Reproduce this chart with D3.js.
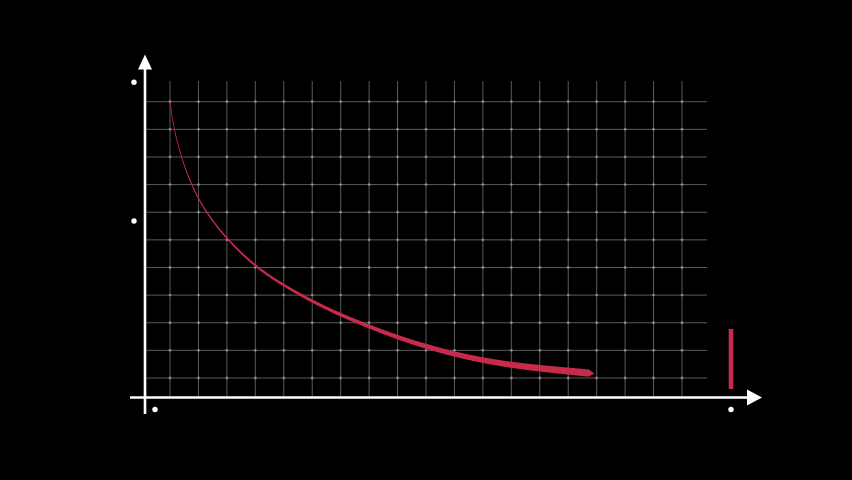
<!DOCTYPE html>
<html>
<head>
<meta charset="utf-8">
<script src="https://cdn.jsdelivr.net/npm/d3@7"></script>
<style>
  html, body { margin: 0; padding: 0; background: #000; }
  svg { display: block; }
</style>
</head>
<body>
<svg id="chart" width="852" height="480"></svg>
<script>
// ---- data (grid units) ----
const gridXTicks = d3.range(0, 19);   // vertical grid lines
const gridYTicks = d3.range(0, 11);   // horizontal grid lines
const curveX = [0, 0.02, 0.14, 0.39, 0.74, 1.25, 2.02, 3.0, 4, 5, 6, 7, 8, 9, 10, 11, 12, 13, 14, 14.9, 14.92];
const curveY = [10, 9.85, 9, 8, 7, 6, 5, 4.02, 3.35, 2.77, 2.28, 1.86, 1.47, 1.14, 0.86, 0.64, 0.47, 0.35, 0.25, 0.16, 0.158];

const RED = "#c82a4b";
const svg = d3.select("#chart");
svg.append("rect").attr("width", 852).attr("height", 480).attr("fill", "#000");

const x = d3.scaleLinear().domain([0, 18]).range([170, 682]);
const y = d3.scaleLinear().domain([0, 10]).range([378, 101.7]);

const axisX = 145, axisY = 397.5;

// ---- grid ----
const grid = svg.append("g");
grid.selectAll("line.v").data(gridXTicks).join("line")
  .attr("x1", d => x(d)).attr("x2", d => x(d))
  .attr("y1", 81).attr("y2", axisY)
  .attr("stroke", "#5a5a5a").attr("stroke-width", 1);
grid.selectAll("line.h").data(gridYTicks).join("line")
  .attr("x1", axisX).attr("x2", 707)
  .attr("y1", d => y(d)).attr("y2", d => y(d))
  .attr("stroke", "#5a5a5a").attr("stroke-width", 1);
const inter = [];
gridXTicks.forEach(i => gridYTicks.forEach(j => inter.push([i, j])));
grid.selectAll("circle").data(inter).join("circle")
  .attr("cx", d => x(d[0])).attr("cy", d => y(d[1]))
  .attr("r", 1.4).attr("fill", "#b5b5b5").attr("opacity", 0.6);

// ---- tapered curve ----
const pts = curveX.map((d, i) => [x(d), y(curveY[i])]);
const line = d3.line().curve(d3.curveBasis);
const tmp = svg.append("path").attr("d", line(pts)).attr("fill", "none").attr("stroke", "none");
const node = tmp.node();
const L = node.getTotalLength();
const N = 600;
const samples = d3.range(N + 1).map(k => {
  const p = node.getPointAtLength(L * k / N);
  return { x: p.x, y: p.y, s: L * k / N };
});
const left = [], right = [];
samples.forEach((p, k) => {
  const a = samples[Math.max(0, k - 2)], b = samples[Math.min(N, k + 2)];
  let dx = b.x - a.x, dy = b.y - a.y;
  const len = Math.hypot(dx, dy) || 1;
  dx /= len; dy /= len;
  const gx = x.invert(p.x);
  let w = 0.7 + 0.45 * gx;
  const rem = L - p.s;
  if (rem < 6) w *= Math.max(0.08, rem / 6);
  const h = w / 2;
  left.push([p.x - dy * h, p.y + dx * h]);
  right.push([p.x + dy * h, p.y - dx * h]);
});
tmp.remove();
const poly = left.concat(right.reverse());
svg.append("path")
  .attr("d", "M" + poly.map(p => p.join(",")).join("L") + "Z")
  .attr("fill", RED);

// ---- axes ----
const ax = svg.append("g").attr("fill", "#fff").attr("stroke", "#fff");
ax.append("line").attr("x1", axisX).attr("x2", axisX).attr("y1", 66).attr("y2", 414)
  .attr("stroke-width", 2.6);
ax.append("path").attr("stroke", "none")
  .attr("d", `M${axisX},54.5L${axisX + 7},69.5L${axisX - 7},69.5Z`);
ax.append("line").attr("x1", 130).attr("x2", 750).attr("y1", axisY).attr("y2", axisY)
  .attr("stroke-width", 2.6);
ax.append("path").attr("stroke", "none")
  .attr("d", `M762,${axisY}L747,${axisY - 8}L747,${axisY + 8}Z`);

// ---- dots ----
const dots = [[134, 82.3], [134, 221], [155, 409.5], [731, 409.5]];
svg.selectAll("circle.dot").data(dots).join("circle").attr("class", "dot")
  .attr("cx", d => d[0]).attr("cy", d => d[1]).attr("r", 2.7).attr("fill", "#fff");

// ---- red marker bar ----
svg.append("rect").attr("x", 728.7).attr("y", 329).attr("width", 4.6).attr("height", 60)
  .attr("fill", RED);
</script>
</body>
</html>
